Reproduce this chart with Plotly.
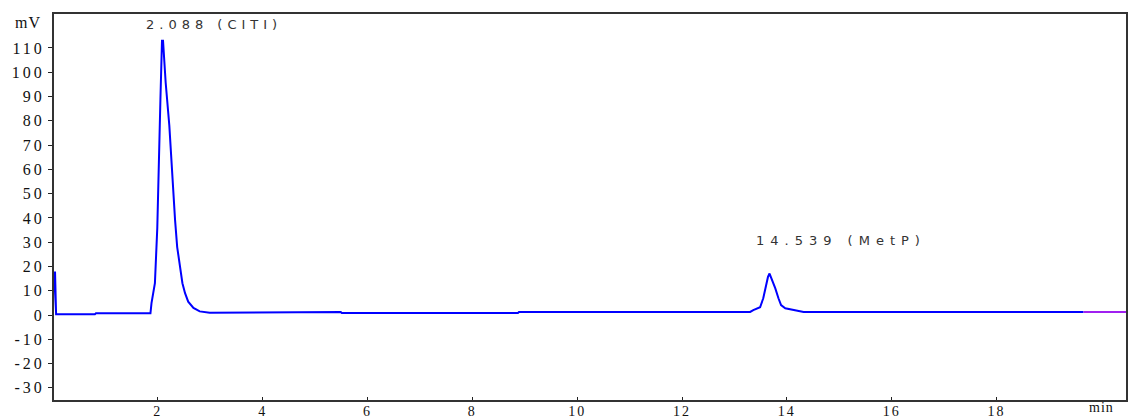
import plotly.graph_objects as go

# Chromatogram trace (time in min, signal in mV)
time_min = [0.0, 0.02, 0.04, 0.06, 0.80, 0.82, 1.86, 1.88, 1.945, 1.99, 2.05, 2.08, 2.10,
            2.13, 2.15, 2.22, 2.26, 2.29, 2.33, 2.37, 2.42, 2.47, 2.52, 2.58, 2.68,
            2.80, 2.99, 4.06, 4.08, 5.49, 5.51, 8.87, 8.89,
            13.30, 13.36, 13.49, 13.55, 13.60, 13.64, 13.67, 13.71, 13.78, 13.84,
            13.89, 13.97, 14.13, 14.32, 19.66]
signal_mv = [0.3, 17.5, 17.5, 0.3, 0.3, 0.7, 0.7, 4.9, 13.1, 35.7, 88.7, 113.0, 113.0,
             100.0, 95.8, 78.0, 63.7, 50.6, 39.0, 28.0, 19.8, 13.1, 9.0, 5.5, 2.9,
             1.5, 0.9, 0.9, 1.2, 1.2, 0.8, 0.8, 1.2,
             1.3, 2.05, 3.2, 6.9, 12.3, 15.7, 17.1, 15.1, 11.0, 6.9,
             4.1, 2.8, 2.05, 1.3, 1.3]

# tail segment drawn in a different colour
tail_time = [19.66, 20.47]
tail_mv = [1.3, 1.3]

# Peak labels
peak_labels = ["2.088 (CITI)", "14.539 (MetP)"]
peak_label_t = [3.07, 15.04]
peak_label_mv = [119.5, 30.8]
peak_label_spacing = [5, 6]

x_ticks = [2, 4, 6, 8, 10, 12, 14, 16, 18]
y_ticks = [-30, -20, -10, 0, 10, 20, 30, 40, 50, 60, 70, 80, 90, 100, 110]


def spaced(s, px):
    return f'<span style="letter-spacing:{px}px">{s}</span>'


fig = go.Figure()
fig.add_trace(go.Scatter(x=time_min, y=signal_mv, mode="lines",
                         line=dict(color="#0000ff", width=2),
                         showlegend=False, hoverinfo="x+y"))
fig.add_trace(go.Scatter(x=tail_time, y=tail_mv, mode="lines",
                         line=dict(color="#a020f0", width=2),
                         showlegend=False, hoverinfo="x+y"))

tick_font = dict(family="Liberation Serif", size=16, color="#111111")
x_tick_font = dict(family="Liberation Serif", size=14, color="#111111")

for lab, t, v, sp in zip(peak_labels, peak_label_t, peak_label_mv, peak_label_spacing):
    fig.add_annotation(x=t, y=v, text=spaced(lab, sp), showarrow=False,
                       font=dict(family="DejaVu Sans", size=13, color="#333333"),
                       xanchor="center", yanchor="middle")

fig.add_annotation(xref="paper", yref="paper", x=-0.024, y=1.0, text=spaced("mV", 1),
                   showarrow=False, font=tick_font, xanchor="center", yanchor="top",
                   yshift=2)
fig.add_annotation(xref="paper", yref="paper", x=0.977, y=0.0, text=spaced("min", 1),
                   showarrow=False, font=x_tick_font, xanchor="center", yanchor="top",
                   yshift=2)

fig.update_xaxes(range=[0.02, 20.47], tickvals=x_ticks,
                 ticktext=[spaced(str(v), 2) for v in x_ticks],
                 ticks="inside", ticklen=3, tickwidth=1, tickcolor="#222222",
                 ticklabelstandoff=-3,
                 showline=True, linecolor="#333333", linewidth=2, mirror=True,
                 showgrid=False, zeroline=False, tickfont=x_tick_font)
fig.update_yaxes(range=[-35, 124], tickvals=y_ticks,
                 ticktext=[spaced(str(v), 3) for v in y_ticks],
                 ticks="outside", ticklen=4, tickwidth=1, tickcolor="#222222",
                 showline=True, linecolor="#333333", linewidth=2, mirror=True,
                 showgrid=False, zeroline=False, tickfont=tick_font)

fig.update_layout(width=1129, height=419,
                  margin=dict(l=54, r=3, t=14, b=19, autoexpand=False),
                  paper_bgcolor="white", plot_bgcolor="white")

fig.write_html("out.html", config={"displayModeBar": False},
               post_script="document.body.style.margin='0';")
